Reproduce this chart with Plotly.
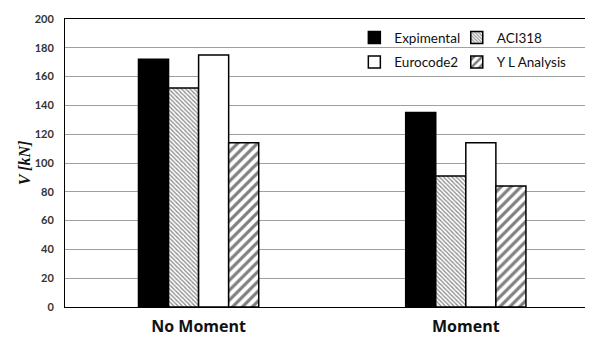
import plotly.graph_objects as go

categories = ["No Moment", "Moment"]
series_names = ["Expimental", "ACI318", "Eurocode2", "Y L Analysis"]
expimental = [172, 135]
aci318 = [152, 91]
eurocode2 = [175, 114]
yl_analysis = [114, 84]
y_ticks = [0, 20, 40, 60, 80, 100, 120, 140, 160, 180, 200]

fig = go.Figure()
fig.add_trace(go.Bar(name=series_names[0], x=categories, y=expimental, legend="legend",
                     marker=dict(color="black", line=dict(color="black", width=1.5))))
fig.add_trace(go.Bar(name=series_names[1], x=categories, y=aci318, legend="legend2",
                     marker=dict(color="white", line=dict(color="black", width=1.5),
                                 pattern=dict(shape="\\", size=3, solidity=0.45,
                                              fgcolor="#222222", bgcolor="white"))))
fig.add_trace(go.Bar(name=series_names[2], x=categories, y=eurocode2, legend="legend3",
                     marker=dict(color="white", line=dict(color="black", width=1.5))))
fig.add_trace(go.Bar(name=series_names[3], x=categories, y=yl_analysis, legend="legend4",
                     marker=dict(color="white", line=dict(color="black", width=1.5),
                                 pattern=dict(shape="/", size=7, solidity=0.45,
                                              fgcolor="black", bgcolor="white"))))

legend_common = dict(orientation="h", xanchor="left", yanchor="middle",
                     bgcolor="rgba(0,0,0,0)", font=dict(family="Lato", size=13.5, color="#111111"),
                     itemwidth=30)

fig.update_layout(
    width=585, height=335,
    margin=dict(l=57, r=0, t=11, b=36),
    plot_bgcolor="white", paper_bgcolor="white",
    barmode="group", bargap=0.55, bargroupgap=0,
    font=dict(family="Lato", color="#222222"),
    legend=dict(x=0.548, y=0.935, **legend_common),
    legend2=dict(x=0.742, y=0.935, **legend_common),
    legend3=dict(x=0.548, y=0.85, **legend_common),
    legend4=dict(x=0.742, y=0.85, **legend_common),
    showlegend=True,
)
fig.update_xaxes(range=[-0.5, 1.476], showline=True, linecolor="black", linewidth=1,
                 mirror=True, showgrid=False, ticks="", ticklabelstandoff=5,
                 tickfont=dict(family="Open Sans", size=16, color="#111111", weight="bold"))
fig.update_yaxes(range=[0, 200], tickvals=y_ticks, showline=True, linecolor="black",
                 linewidth=1, mirror=False, showgrid=True, gridcolor="#a0a0a0", gridwidth=1,
                 zeroline=False, ticks="", ticklabelstandoff=8,
                 tickfont=dict(family="Lato", size=11, color="#333333", weight="bold"),
                 title=dict(text="<i>V [kN]</i>", standoff=0,
                            font=dict(family="Liberation Serif", size=16, color="#111111", weight="bold")))

fig.write_html("out.html")
